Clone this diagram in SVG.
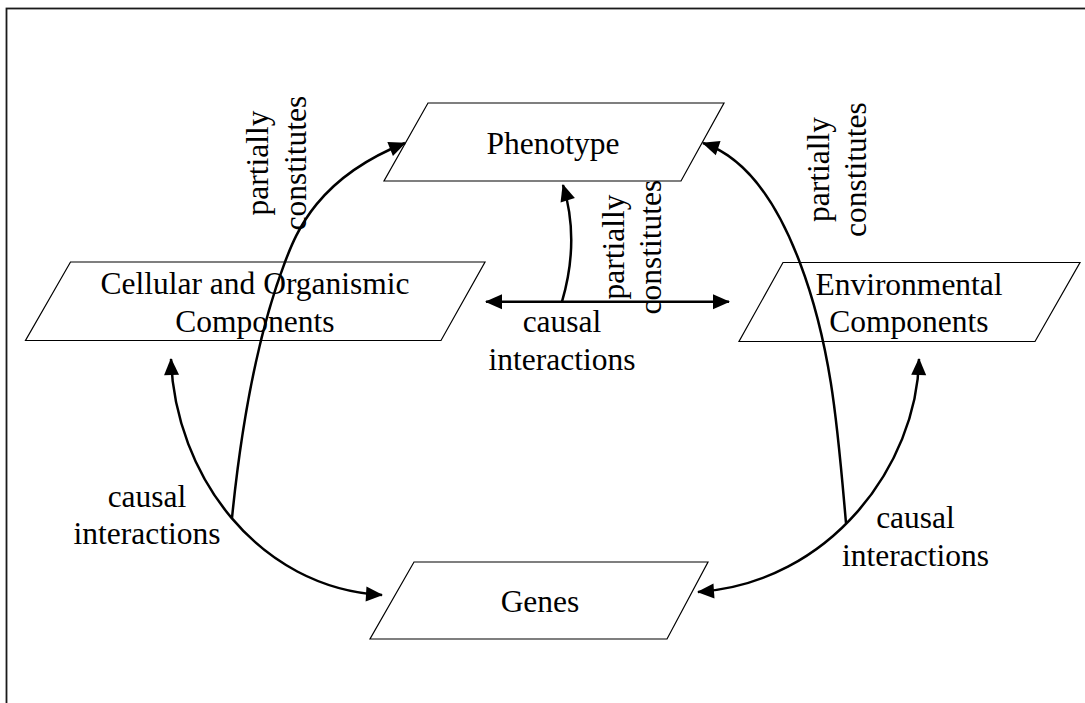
<svg xmlns="http://www.w3.org/2000/svg" width="1085" height="703" viewBox="0 0 1085 703">
<style>
.frame{fill:none;stroke:#1a1a1a;stroke-width:1.8}
.box{fill:#fff;stroke:#000;stroke-width:1.2}
.t{font-family:"Liberation Serif","Times New Roman",serif;font-size:31.5px;fill:#000;text-anchor:middle}
.c{fill:none;stroke:#000;stroke-width:2.5}
.end{marker-end:url(#ah)}
.both{marker-start:url(#ah);marker-end:url(#ah)}
</style>
<defs>
<marker id="ah" markerUnits="userSpaceOnUse" viewBox="0 0 17 15" markerWidth="17" markerHeight="15" refX="16" refY="7.5" orient="auto-start-reverse" overflow="visible">
<path d="M0,0 L17,7.5 L0,15 z" fill="#000"/>
</marker>
</defs>
<rect class="frame" x="6.5" y="8.5" width="1100" height="720"/>
<g id="nodes">
<g id="phenotype">
<polygon class="box" points="428,103 724,103 681,181 384,181"/>
<text class="t" x="553" y="154">Phenotype</text>
</g>
<g id="cellular">
<polygon class="box" points="70.5,262 485,262 441,340.5 25.5,340.5"/>
<text class="t" x="255" y="293.5">Cellular and Organismic</text>
<text class="t" x="255" y="331.5">Components</text>
</g>
<g id="environmental">
<polygon class="box" points="783,262.5 1080,262.5 1035,341.5 739,341.5"/>
<text class="t" x="909" y="294.5">Environmental</text>
<text class="t" x="909" y="332">Components</text>
</g>
<g id="genes">
<polygon class="box" points="414,562 708,562 667,639 370,639"/>
<text class="t" x="540" y="611.5">Genes</text>
</g>
</g>
<g id="connectors">
<path class="c both" d="M486,301.7 L729,301.7"/>
<path class="c end" d="M562,301.7 Q580,240 563,185"/>
<path class="c both" d="M171,359 C175,475 258,588 382,595"/>
<path class="c end" d="M232,518 C240,438 254.6,342 285,262 C296.4,232 317.5,178 405,143"/>
<path class="c both" d="M919,359 C917,465 830,583 698,592"/>
<path class="c end" d="M846,523 C838,433 832.3,348 800,263 C792.4,243 763,163 703,143"/>
<g id="labels">
<text class="t" x="562" y="332">causal</text>
<text class="t" x="562" y="370">interactions</text>
<text class="t" x="147" y="506.5">causal</text>
<text class="t" x="147" y="544">interactions</text>
<text class="t" x="915.5" y="528">causal</text>
<text class="t" x="915.5" y="566">interactions</text>
<text class="t" transform="translate(268,163) rotate(-90)"><tspan x="0" y="0">partially</tspan><tspan x="0" y="37.5">constitutes</tspan></text>
<text class="t" transform="translate(623.5,247) rotate(-90)"><tspan x="0" y="0">partially</tspan><tspan x="0" y="37.5">constitutes</tspan></text>
<text class="t" transform="translate(828.5,169.5) rotate(-90)"><tspan x="0" y="0">partially</tspan><tspan x="0" y="37.5">constitutes</tspan></text>
</g>
</g>
</svg>
